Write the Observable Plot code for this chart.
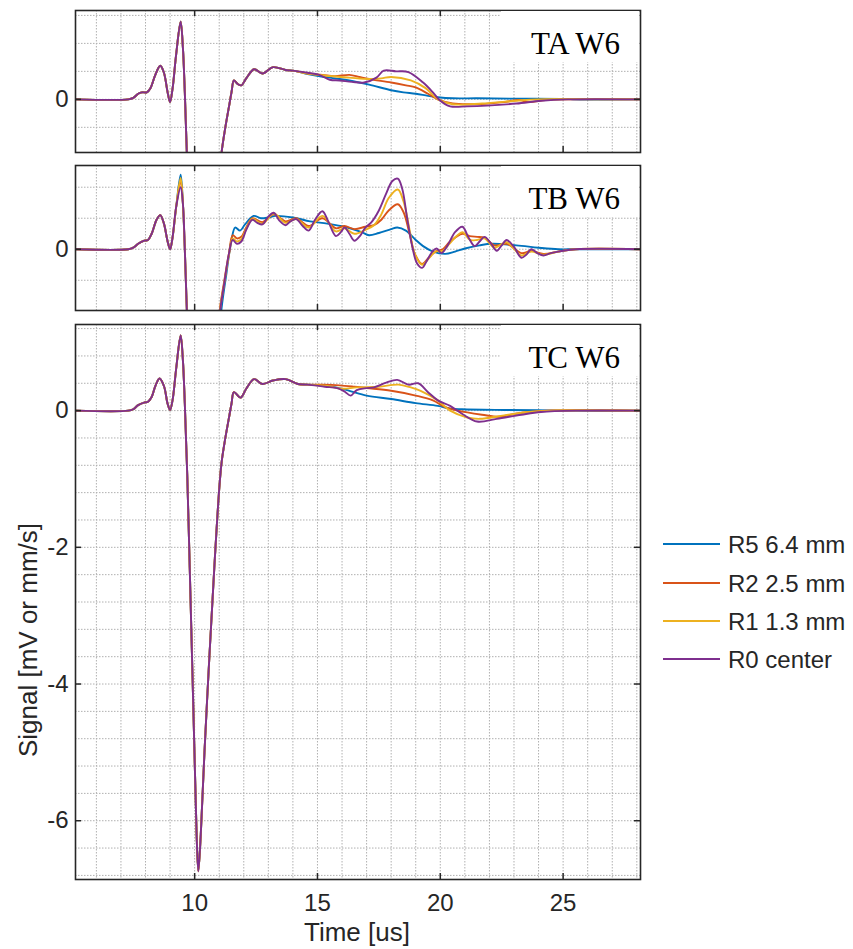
<!DOCTYPE html>
<html><head><meta charset="utf-8">
<script src="https://cdn.jsdelivr.net/npm/d3@7"></script>
<script src="https://cdn.jsdelivr.net/npm/@observablehq/plot@0.6"></script>
<style>
body{margin:0;background:#fff;}
#fig{position:relative;width:853px;height:949px;font-family:"Liberation Sans",Arial,sans-serif;color:#262626;overflow:hidden;}
#fig svg{position:absolute;left:0;overflow:visible;}
.box{position:absolute;background:#fff;}
.tag{position:absolute;font-family:"Liberation Serif","Times New Roman",serif;font-size:31px;line-height:31px;color:#000;text-align:right;white-space:nowrap;}
.lg{position:absolute;left:663px;height:0;width:57px;border-top:2px solid;}
.lt{position:absolute;left:728px;font-size:24px;line-height:24px;white-space:nowrap;color:#262626;}
.xl{position:absolute;font-size:26px;line-height:26px;white-space:nowrap;}
</style></head><body><div id="fig"></div>
<script>
// ---------- data ----------
const seriesNames = ["R5 6.4 mm", "R2 2.5 mm", "R1 1.3 mm", "R0 center"];
const seriesColors = ["#0072BD", "#D95319", "#EDB120", "#7E2F8E"];
const xTicks = [10, 15, 20, 25];
const xDomain = [5.15, 28.15];

// Panel TA
const taShared = [[5.15,0],[7.3,0],[7.5,0.02],[7.7,0.08],[7.85,0.1],[8.05,0.1],[8.2,0.16],[8.4,0.35],[8.6,0.48],[8.75,0.38],[8.9,0.1],[9.0,-0.04],[9.1,0.15],[9.25,0.65],[9.43,1.11],[9.52,0.75],[9.6,0.1],[9.7,-0.95],[9.8,-2.3],[9.9,-3.7],[10.0,-5.1],[10.08,-6.2],[10.15,-6.72],[10.25,-6.2],[10.4,-5.0],[10.6,-3.6],[10.8,-2.3],[11.0,-1.15],[11.1,-0.75],[11.25,-0.4],[11.4,-0.1],[11.5,0.1],[11.6,0.27],[11.75,0.22],[11.9,0.2],[12.1,0.3],[12.42,0.43],[12.76,0.37],[13.19,0.46],[13.7,0.42],[14.0,0.41]];
const taR5 = [[14.5,0.37],[15.1,0.33],[15.7,0.30],[16.3,0.27],[17.1,0.21],[18.0,0.13],[18.5,0.1],[19.0,0.08],[19.5,0.05],[19.9,0.03],[20.5,0.015],[21.5,0.015],[23,0.01],[25.2,0.005],[25.4,0],[28.15,0]];
const taR2 = [[14.6,0.37],[15.2,0.35],[15.7,0.33],[16.3,0.35],[16.7,0.32],[17.1,0.29],[18.0,0.24],[18.6,0.2],[19.0,0.17],[19.5,0.08],[19.9,0.0],[20.5,-0.06],[21.4,-0.07],[22.6,-0.04],[23.2,-0.01],[23.6,-0.04],[24.3,-0.01],[25.2,0],[28.15,0]];
const taR1 = [[14.6,0.37],[15.3,0.34],[16.3,0.31],[17.1,0.29],[17.6,0.3],[18.0,0.32],[18.8,0.27],[19.4,0.16],[19.9,0.0],[20.5,-0.07],[21.7,-0.06],[23.1,-0.02],[24.0,0],[28.15,0]];
const taR0 = [[14.6,0.38],[15.07,0.35],[15.5,0.28],[15.9,0.27],[16.4,0.25],[16.9,0.24],[17.4,0.31],[17.7,0.41],[18.2,0.40],[18.7,0.39],[19.3,0.24],[19.7,0.10],[20.0,-0.02],[20.4,-0.10],[21.1,-0.10],[21.9,-0.09],[23.1,-0.06],[24.1,-0.02],[25.2,0],[28.15,0]];

// Panel TB
const tbOnset = [[5.15,0],[7.3,0],[7.5,0.02],[7.7,0.07],[7.95,0.11],[8.1,0.12],[8.25,0.2],[8.45,0.38],[8.6,0.44],[8.75,0.33],[8.9,0.1],[9.0,0.0],[9.1,0.15],[9.25,0.55]];
const tbPeak = [0.96, 0.88, 0.92, 0.80];
const tbDrop = [[9.52,0.6],[9.6,0.0],[9.7,-0.95],[9.8,-2.3],[10.15,-6.7],[10.6,-3.6],[10.8,-2.3]];
const tbR5 = [[11.0,-1.1],[11.1,-0.75],[11.3,-0.3],[11.5,0.12],[11.65,0.28],[11.85,0.24],[12.05,0.32],[12.4,0.43],[12.7,0.40],[13.0,0.41],[13.3,0.43],[14.0,0.41],[14.7,0.36],[15.4,0.33],[16.1,0.29],[16.8,0.22],[17.1,0.18],[17.5,0.21],[18.0,0.26],[18.25,0.28],[18.6,0.24],[19.0,0.12],[19.3,0.04],[19.7,-0.03],[20.2,-0.06],[20.6,-0.03],[21.0,0.01],[21.6,0.05],[22.1,0.07],[23.1,0.05],[24.0,0.02],[24.8,0.0],[25.5,0],[28.15,0]];
const tbR2 = [[11.0,-0.85],[11.2,-0.42],[11.4,-0.05],[11.55,0.18],[11.72,0.14],[11.9,0.16],[12.1,0.28],[12.35,0.4],[12.76,0.35],[13.22,0.45],[13.7,0.36],[14.13,0.4],[14.64,0.3],[15.2,0.4],[15.75,0.27],[16.1,0.3],[16.5,0.26],[16.95,0.29],[17.3,0.31],[17.6,0.38],[17.9,0.5],[18.27,0.58],[18.5,0.48],[18.75,0.2],[18.95,-0.05],[19.26,-0.19],[19.5,-0.12],[19.8,-0.03],[20.1,0.0],[20.4,0.1],[20.9,0.2],[21.2,0.17],[21.5,0.16],[21.8,0.15],[22.2,0.05],[22.7,0.07],[23.3,-0.05],[23.7,-0.02],[24.2,-0.06],[24.8,-0.03],[25.5,0],[28.15,0]];
const tbR1 = [[11.0,-0.87],[11.2,-0.45],[11.4,-0.07],[11.55,0.14],[11.72,0.1],[11.9,0.13],[12.1,0.26],[12.35,0.39],[12.76,0.33],[13.22,0.46],[13.7,0.34],[14.13,0.39],[14.64,0.28],[15.2,0.43],[15.75,0.23],[16.1,0.27],[16.5,0.2],[16.95,0.25],[17.3,0.31],[17.6,0.45],[17.9,0.66],[18.27,0.77],[18.5,0.62],[18.75,0.25],[18.95,-0.05],[19.26,-0.2],[19.5,-0.13],[19.8,-0.03],[20.1,-0.02],[20.4,0.08],[20.9,0.22],[21.2,0.12],[21.5,0.12],[21.8,0.14],[22.2,0.02],[22.7,0.09],[23.3,-0.08],[23.7,-0.03],[24.2,-0.07],[24.8,-0.03],[25.5,0],[28.15,0]];
const tbR0 = [[11.0,-0.9],[11.2,-0.45],[11.4,-0.05],[11.55,0.12],[11.72,0.07],[11.9,0.1],[12.1,0.25],[12.35,0.38],[12.55,0.34],[12.76,0.32],[13.0,0.42],[13.22,0.47],[13.45,0.37],[13.7,0.31],[13.9,0.36],[14.13,0.39],[14.4,0.3],[14.64,0.24],[14.9,0.38],[15.2,0.49],[15.45,0.35],[15.75,0.17],[15.95,0.22],[16.1,0.28],[16.3,0.2],[16.5,0.11],[16.75,0.18],[16.95,0.28],[17.2,0.35],[17.5,0.5],[17.8,0.72],[18.05,0.88],[18.27,0.91],[18.45,0.78],[18.65,0.4],[18.85,0.05],[19.05,-0.18],[19.26,-0.24],[19.45,-0.15],[19.7,-0.02],[19.85,0.01],[20.05,-0.05],[20.3,0.05],[20.6,0.22],[20.9,0.29],[21.15,0.15],[21.4,0.04],[21.6,0.1],[21.8,0.16],[22.05,0.08],[22.3,-0.02],[22.5,0.05],[22.7,0.12],[23.0,0.03],[23.3,-0.11],[23.5,-0.07],[23.7,0.0],[23.95,-0.05],[24.2,-0.08],[24.5,-0.05],[24.8,-0.03],[25.5,0],[28.15,0]];

// Panel TC
const tcShared = [[5.15,0],[7.3,0],[7.5,0.02],[7.7,0.08],[7.97,0.12],[8.1,0.13],[8.25,0.2],[8.4,0.36],[8.57,0.47],[8.75,0.36],[8.9,0.1],[9.0,0.01],[9.1,0.15],[9.25,0.62],[9.43,1.10],[9.52,0.75],[9.6,0.1],[9.7,-0.95],[9.8,-2.3],[9.9,-3.7],[10.0,-5.1],[10.08,-6.2],[10.15,-6.74],[10.25,-6.2],[10.4,-5.0],[10.6,-3.6],[10.8,-2.3],[11.0,-1.15],[11.1,-0.75],[11.25,-0.4],[11.4,-0.1],[11.5,0.1],[11.6,0.27],[11.87,0.19],[12.1,0.32],[12.42,0.46],[12.76,0.39],[13.19,0.44],[13.7,0.46],[14.2,0.39]];
const tcR5 = [[14.6,0.38],[15.2,0.37],[15.75,0.34],[16.3,0.29],[17.0,0.22],[18.0,0.17],[19.0,0.11],[19.9,0.07],[20.4,0.03],[20.9,0.02],[22.6,0.01],[24,0.005],[25,0],[28.15,0]];
const tcR2 = [[14.6,0.38],[15.2,0.38],[15.9,0.37],[16.5,0.35],[17.0,0.33],[18.0,0.29],[19.0,0.22],[19.7,0.15],[20.2,0.05],[20.7,0.0],[21.7,-0.06],[22.4,-0.09],[23.0,-0.05],[23.6,-0.02],[24.3,0],[28.15,0]];
const tcR1 = [[14.6,0.38],[15.4,0.36],[16.0,0.32],[16.6,0.34],[17.5,0.35],[18.3,0.38],[18.8,0.34],[19.2,0.29],[19.9,0.15],[20.4,0.0],[21.1,-0.1],[21.6,-0.12],[22.6,-0.07],[23.6,-0.02],[24.5,0],[28.15,0]];
const tcR0 = [[14.6,0.38],[15.3,0.35],[15.8,0.33],[16.1,0.28],[16.35,0.22],[16.6,0.3],[17.0,0.33],[17.3,0.34],[17.8,0.41],[18.25,0.45],[18.7,0.38],[19.1,0.40],[19.5,0.27],[19.9,0.15],[20.4,0.07],[20.9,-0.05],[21.5,-0.16],[22.3,-0.12],[23.3,-0.06],[24.1,-0.02],[25.5,0],[28.15,0]];

const panelLabels = ["TA W6", "TB W6", "TC W6"];
const yTicksA = [0], yTicksB = [0], yTicksC = [0, -2, -4, -6];

// ---------- build series ----------
const toRows = pts => pts.map(([t, v]) => ({t, v}));
const seriesA = [taR5, taR2, taR1, taR0].map(tail => toRows(taShared.concat(tail)));
const seriesB = [tbR5, tbR2, tbR1, tbR0].map((tail, i) => toRows(tbOnset.concat([[9.43, tbPeak[i]]], tbDrop, tail)));
const seriesC = [tcR5, tcR2, tcR1, tcR0].map(tail => toRows(tcShared.concat(tail)));

const panels = [
  {series: seriesA, yDomain: [-0.76, 1.27], yTicks: yTicksA, yGrid: [-0.4, 0, 0.4, 0.8, 1.2], top: 10, h: 142, label: panelLabels[0], xLabels: false},
  {series: seriesB, yDomain: [-0.79, 1.08], yTicks: yTicksB, yGrid: [-0.4, 0, 0.4, 0.8], top: 165, h: 145, label: panelLabels[1], xLabels: false},
  {series: seriesC, yDomain: [-6.86, 1.26], yTicks: yTicksC, yGrid: d3.range(-6.8, 1.25, 0.4).map(v => +v.toFixed(1)), top: 324, h: 555, label: panelLabels[2], xLabels: true}
];

const fig = document.getElementById("fig");
const ML = 75, MR = 213, W = 853, MT = 10;
const frameW = W - ML - MR;
const xGrid = d3.range(6, 29, 1);
const gridStyle = {stroke: "#b0b0b0", strokeWidth: 1, strokeDasharray: "1.5,1.5"};
const ink = "#262626";

panels.forEach(p => {
  const mb = p.xLabels ? 40 : 4;
  const [y0, y1] = p.yDomain;
  const ty = (y1 - y0) * 6 / p.h;
  const tx = (xDomain[1] - xDomain[0]) * 6 / frameW;
  const marks = [
    Plot.ruleX(xGrid, {x: d => d, ...gridStyle}),
    Plot.ruleY(p.yGrid, {y: d => d, ...gridStyle}),
    ...p.series.map((rows, i) => Plot.line(rows, {x: "t", y: "v", stroke: seriesColors[i], strokeWidth: 1.9, curve: "catmull-rom", clip: true})),
    Plot.frame({stroke: ink, strokeWidth: 1.6}),
    Plot.ruleX(xTicks, {x: d => d, y1: y0, y2: y0 + ty, stroke: ink, strokeWidth: 1.5}),
    Plot.ruleX(xTicks, {x: d => d, y1: y1 - ty, y2: y1, stroke: ink, strokeWidth: 1.5}),
    Plot.ruleY(p.yTicks, {y: d => d, x1: xDomain[0], x2: xDomain[0] + tx, stroke: ink, strokeWidth: 1.5}),
    Plot.ruleY(p.yTicks, {y: d => d, x1: xDomain[1] - tx, x2: xDomain[1], stroke: ink, strokeWidth: 1.5}),
    Plot.axisY(p.yTicks, {tickSize: 0, tickPadding: 7, tickFormat: d => String(d), label: null, fill: ink})
  ];
  if (p.xLabels) marks.push(Plot.axisX(xTicks, {tickSize: 0, tickPadding: 14, tickFormat: d => String(d), label: null, fill: ink}));
  const svg = Plot.plot({
    width: W, height: MT + p.h + mb,
    marginLeft: ML, marginRight: MR, marginTop: MT, marginBottom: mb,
    x: {domain: xDomain, axis: p.xLabels ? undefined : null, label: null},
    y: {domain: p.yDomain, label: null},
    style: {overflow: "visible", background: "transparent", fontFamily: "'Liberation Sans', Arial, sans-serif", fontSize: "24px", color: ink},
    marks
  });
  svg.style.top = (p.top - MT) + "px";
  fig.appendChild(svg);
  const box = document.createElement("div");
  box.className = "box";
  Object.assign(box.style, {left: "501px", top: (p.top + 1) + "px", width: "138px", height: "51px"});
  fig.appendChild(box);
  const tag = document.createElement("div");
  tag.className = "tag";
  tag.textContent = p.label;
  Object.assign(tag.style, {left: "480px", width: "140px", top: (p.top + 18) + "px"});
  fig.appendChild(tag);
});

// legend
const legendY = [544, 583, 621, 659];
seriesNames.forEach((name, i) => {
  const l = document.createElement("div");
  l.className = "lg";
  l.style.top = (legendY[i] - 1) + "px";
  l.style.borderTopColor = seriesColors[i];
  fig.appendChild(l);
  const t = document.createElement("div");
  t.className = "lt";
  t.textContent = name;
  t.style.top = (legendY[i] - 11) + "px";
  fig.appendChild(t);
});

// axis titles
const xl = document.createElement("div");
xl.className = "xl";
xl.textContent = "Time [us]";
Object.assign(xl.style, {left: "257px", width: "200px", textAlign: "center", top: "919px"});
fig.appendChild(xl);
const yl = document.createElement("div");
yl.className = "xl";
yl.textContent = "Signal [mV or mm/s]";
Object.assign(yl.style, {left: "28px", top: "640px", transform: "translate(-50%,-50%) rotate(-90deg)"});
fig.appendChild(yl);
</script></body></html>
